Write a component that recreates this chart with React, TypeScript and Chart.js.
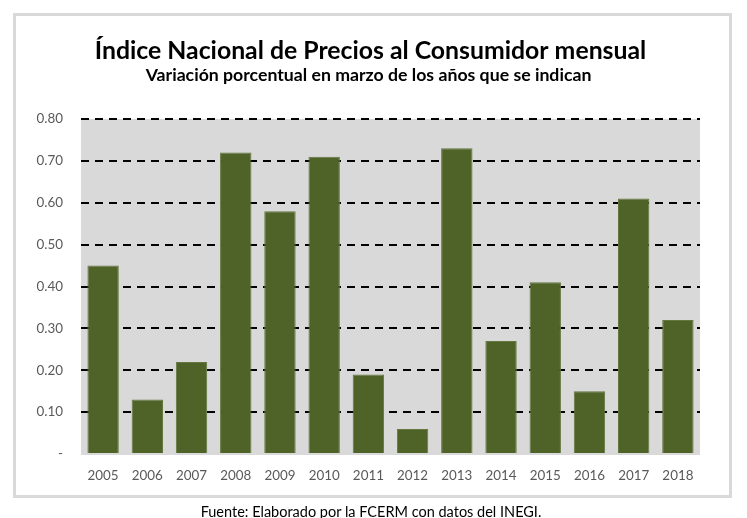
import React, { useEffect, useRef } from 'react';
import { Chart, registerables } from 'chart.js';

Chart.register(...registerables);

const categories = ['2005', '2006', '2007', '2008', '2009', '2010', '2011', '2012', '2013', '2014', '2015', '2016', '2017', '2018'];
const values = [0.45, 0.13, 0.22, 0.72, 0.58, 0.71, 0.19, 0.06, 0.73, 0.27, 0.41, 0.15, 0.61, 0.32];
const yMin = 0;
const yMax = 0.8;
const yStep = 0.1;
const zeroLabel = '-';

const titleText = 'Índice Nacional de Precios al Consumidor mensual';
const subtitleText = 'Variación porcentual en marzo de los años que se indican';
const footerText = 'Fuente: Elaborado por la FCERM con datos del INEGI.';

const FAMILY = 'Lato, "Open Sans", sans-serif';

function fitFont(text: string, weight: string, target: number): number {
  const c = document.createElement('canvas').getContext('2d');
  if (!c) return 14;
  c.font = `${weight} 100px ${FAMILY}`;
  const w = c.measureText(text).width;
  return Math.round((100 * target) / w * 10) / 10;
}

const plotBg = {
  id: 'plotBg',
  beforeDraw(chart: any) {
    const { ctx, chartArea } = chart;
    if (!chartArea) return;
    ctx.save();
    ctx.fillStyle = '#d9d9d9';
    ctx.fillRect(chartArea.left, chartArea.top, chartArea.right - chartArea.left, chartArea.bottom - chartArea.top + 1);
    ctx.restore();
  },
};

// shift the title and subtitle blocks horizontally so they are centred like the reference
const titleShift = {
  id: 'titleShift',
  afterLayout(chart: any) {
    (chart.boxes || []).forEach((b: any) => {
      const t = b && b.options && b.options.text;
      if (t === titleText) {
        b.left += 10;
        b.right += 10;
      } else if (t === subtitleText) {
        b.left += 8;
        b.right += 8;
      }
    });
  },
};

export default function App() {
  const ref = useRef<HTMLCanvasElement | null>(null);
  const footerSize = fitFont(footerText, 'normal', 342);

  useEffect(() => {
    if (!ref.current) return;
    const T = fitFont(titleText, 'bold', 552);
    const S = fitFont(subtitleText, 'bold', 446);
    const tick = fitFont('2005', 'normal', 31);

    const titleCenter = 51;
    const subCenter = 75;
    const areaTop = 119;
    const tPadTop = titleCenter - 0.6 * T;
    const titleBottom = titleCenter + 0.6 * T;
    const sPadTop = subCenter - 0.6 * S - titleBottom;
    const sPadBottom = areaTop - (subCenter + 0.6 * S);

    const chart = new Chart(ref.current, {
      type: 'bar',
      data: {
        labels: categories,
        datasets: [
          {
            data: values,
            backgroundColor: '#4f6228',
            borderColor: '#64773f',
            borderWidth: 1,
            barPercentage: 0.71,
            categoryPercentage: 1,
          },
        ],
      },
      options: {
        responsive: false,
        animation: false,
        devicePixelRatio: 1,
        layout: { padding: { left: 21, right: 47, top: 0, bottom: 34 } },
        plugins: {
          legend: { display: false },
          tooltip: { enabled: false },
          title: {
            display: true,
            text: titleText,
            color: '#000000',
            font: { family: FAMILY, size: T, weight: 'bold' },
            padding: { top: tPadTop, bottom: 0 },
          },
          subtitle: {
            display: true,
            text: subtitleText,
            color: '#000000',
            font: { family: FAMILY, size: S, weight: 'bold' },
            padding: { top: sPadTop, bottom: sPadBottom },
          },
        },
        scales: {
          x: {
            grid: { display: false },
            border: { display: false },
            ticks: {
              color: '#595959',
              font: { family: FAMILY, size: tick },
              padding: 14 - 0.6 * tick,
              maxRotation: 0,
            },
            afterFit: (s: any) => {
              s.height = 30;
            },
          },
          y: {
            min: yMin,
            max: yMax,
            border: { display: false, dash: [8, 6] },
            grid: {
              drawTicks: false,
              lineWidth: 2,
              color: (c: any) => (c.tick && c.tick.value === 0 ? 'rgba(0,0,0,0)' : '#000000'),
            },
            ticks: {
              stepSize: yStep,
              padding: 18,
              color: '#595959',
              font: { family: FAMILY, size: tick },
              callback: (v: any) => (Number(v) === 0 ? zeroLabel : Number(v).toFixed(2)),
            },
            afterFit: (s: any) => {
              s.width = 60;
            },
          },
        },
      },
      plugins: [plotBg, titleShift],
    } as any);
    return () => chart.destroy();
  }, []);

  return (
    <div style={{ position: 'absolute', left: 0, top: 0, width: 747, height: 518, overflow: 'hidden', background: '#ffffff' }}>
      <div
        style={{
          position: 'absolute',
          left: 13,
          top: 13,
          width: 719,
          height: 485,
          boxSizing: 'border-box',
          border: '3px solid #d9d9d9',
        }}
      />
      <canvas ref={ref} width={747} height={518} style={{ position: 'absolute', left: 0, top: 0, width: 747, height: 518 }} />
      <div
        style={{
          position: 'absolute',
          left: 0,
          width: 742,
          top: 517 - 0.987 * footerSize,
          textAlign: 'center',
          fontFamily: FAMILY,
          fontSize: footerSize,
          lineHeight: 1.2,
          color: '#000000',
          whiteSpace: 'nowrap',
        }}
      >
        {footerText}
      </div>
    </div>
  );
}
